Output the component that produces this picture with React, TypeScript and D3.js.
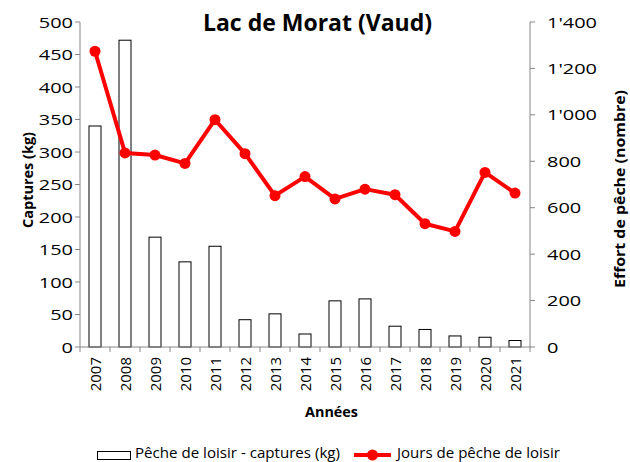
import React from "react";
import * as d3 from "d3";

const years = ["2007","2008","2009","2010","2011","2012","2013","2014","2015","2016","2017","2018","2019","2020","2021"];
const captures = [340, 472, 169, 131, 155, 42, 51, 20, 71, 74, 32, 27, 17, 15, 10];
const jours = [1274, 836, 827, 791, 979, 833, 652, 734, 638, 680, 656, 531, 498, 752, 663];
const leftTicks = [0, 50, 100, 150, 200, 250, 300, 350, 400, 450, 500];
const rightTicks = [0, 200, 400, 600, 800, 1000, 1200, 1400];

const W = 630, H = 462;
const L = 80, R = 530, T = 22, B = 347;
const AXIS = "#868686";
const FONT = "'Open Sans', sans-serif";
const SX = 1.33;

const fmt = (v: number) => {
  const s = String(v);
  return s.length > 3 ? s.slice(0, s.length - 3) + "'" + s.slice(-3) : s;
};

export default function App() {
  const x = d3.scaleBand<string>().domain(years).range([L, R]).paddingInner(0).paddingOuter(0);
  const yL = d3.scaleLinear().domain([0, 500]).range([B, T]);
  const yR = d3.scaleLinear().domain([0, 1400]).range([B, T]);
  const bw = x.bandwidth() * 0.4;
  const cx = (d: string) => (x(d) as number) + x.bandwidth() / 2;
  const line = d3.line<number>().x((_, i) => cx(years[i])).y((d) => yR(d));

  return (
    <svg width={W} height={H} style={{ position: "absolute", left: 0, top: 0, background: "#fff" }} fontFamily={FONT}>
      <rect x={0} y={0} width={W} height={H} fill="#fff" />
      {/* title */}
      <text x={203} y={31} fontSize={24} fontWeight="bold" textLength={229} lengthAdjust="spacingAndGlyphs">Lac de Morat (Vaud)</text>

      {/* bars */}
      {captures.map((v, i) => (
        <rect key={years[i]} x={cx(years[i]) - bw / 2} y={yL(v)} width={bw} height={B - yL(v)} fill="#fff" stroke="#000" strokeWidth={1} />
      ))}

      {/* left axis */}
      <line x1={L} x2={L} y1={T} y2={B} stroke={AXIS} strokeWidth={1} />
      {leftTicks.map((t) => (
        <g key={"l" + t}>
          <line x1={L - 5} x2={L} y1={yL(t)} y2={yL(t)} stroke={AXIS} />
          <text transform={`translate(${L - 7},${yL(t) + 5.5}) scale(${SX},1)`} textAnchor="end" fontSize={15} fill="#000">{t}</text>
        </g>
      ))}
      {/* right axis */}
      <line x1={R} x2={R} y1={T} y2={B} stroke={AXIS} strokeWidth={1} />
      {rightTicks.map((t) => (
        <g key={"r" + t}>
          <line x1={R} x2={R + 5} y1={yR(t)} y2={yR(t)} stroke={AXIS} />
          <text transform={`translate(${R + 17},${yR(t) + 5.5}) scale(${SX},1)`} textAnchor="start" fontSize={15} fill="#000">{fmt(t)}</text>
        </g>
      ))}
      {/* bottom axis */}
      <line x1={L} x2={R} y1={B} y2={B} stroke={AXIS} strokeWidth={1} />
      {years.map((yr) => (
        <line key={"t" + yr} x1={x(yr) as number} x2={x(yr) as number} y1={B} y2={B + 5} stroke={AXIS} />
      ))}
      <line x1={R} x2={R} y1={B} y2={B + 5} stroke={AXIS} />
      {years.map((yr) => (
        <text key={"xl" + yr} transform={`translate(${cx(yr) + 5.5},${B + 10}) rotate(-90)`} textAnchor="end" fontSize={15} fill="#000">{yr}</text>
      ))}

      {/* line */}
      <path d={line(jours) as string} fill="none" stroke="#ff0000" strokeWidth={4} strokeLinejoin="round" />
      {jours.map((v, i) => (
        <circle key={"c" + i} cx={cx(years[i])} cy={yR(v)} r={5.5} fill="#ff0000" />
      ))}

      {/* axis titles */}
      <text x={305} y={417} fontSize={14} fontWeight="bold" textLength={53} lengthAdjust="spacingAndGlyphs">Années</text>
      <text transform={`translate(33,180) rotate(-90)`} textAnchor="middle" fontSize={14} fontWeight="bold" textLength={96} lengthAdjust="spacingAndGlyphs">Captures (kg)</text>
      <text transform={`translate(625,189) rotate(-90)`} textAnchor="middle" fontSize={14} fontWeight="bold" textLength={198} lengthAdjust="spacingAndGlyphs">Effort de pêche (nombre)</text>

      {/* legend */}
      <rect x={97.5} y={451.5} width={33} height={8} fill="#fff" stroke="#000" strokeWidth={1} />
      <text x={135} y={458} fontSize={14} textLength={205} lengthAdjust="spacingAndGlyphs">Pêche de loisir - captures (kg)</text>
      <line x1={354} x2={391} y1={455} y2={455} stroke="#ff0000" strokeWidth={4} />
      <circle cx={372.5} cy={455} r={5.5} fill="#ff0000" />
      <text x={397} y={458} fontSize={14} textLength={163} lengthAdjust="spacingAndGlyphs">Jours de pêche de loisir</text>
    </svg>
  );
}
